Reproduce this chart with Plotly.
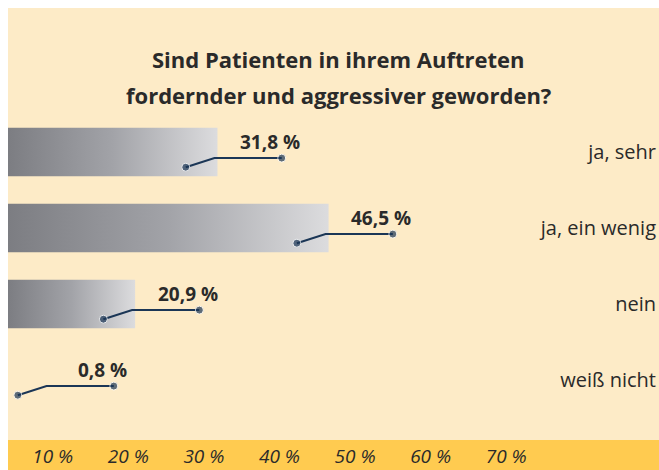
import plotly.graph_objects as go

categories = ["ja, sehr", "ja, ein wenig", "nein", "weiß nicht"]
values = [31.8, 46.5, 20.9, 0.8]
tick_values = [10, 20, 30, 40, 50, 60, 70]
tick_labels = ["10 %", "20 %", "30 %", "40 %", "50 %", "60 %", "70 %"]
title_lines = ["Sind Patienten in ihrem Auftreten", "fordernder und aggressiver geworden?"]

FONT = "Open Sans"
CREAM = "#FDEBC7"
GOLD = "#FFCB50"
NAVY = "#1B3656"
TEXT = "#2a2a2a"

XMIN, XMAX = 4.08, 90.22
W, H = 659, 470
ML, MT, MR, MB = 8, 8, 0, 30
plot_h = H - MT - MB
unit_px = 76.0
y_top = -(152 - MT) / unit_px
y_bottom = 3 + (H - MB - 380) / unit_px
half = 0.32

fig = go.Figure()

for i, (cat, v) in enumerate(zip(categories, values)):
    fig.add_trace(go.Scatter(
        x=[0, v, v, 0, 0], y=[i - half, i - half, i + half, i + half, i - half],
        mode="lines", line=dict(width=0), fill="toself",
        fillgradient=dict(type="horizontal",
                          colorscale=[[0, "#7c7d82"], [0.5, "#a2a3a8"], [1, "#dcdcde"]],
                          start=XMIN, stop=v),
        hoverinfo="skip", showlegend=False))

for i, v in enumerate(values):
    dot_x = max(v - 4.2, XMIN + 1.3)
    elbow_x = dot_x + 3.8
    end_x = elbow_x + 8.9
    fig.add_trace(go.Scatter(
        x=[dot_x, elbow_x, end_x], y=[i + 0.2, i + 0.08, i + 0.08],
        mode="lines+markers", line=dict(color=NAVY, width=2),
        marker=dict(color=NAVY, size=[8, 0, 8]),
        hoverinfo="skip", showlegend=False))
    fig.add_annotation(x=elbow_x + 7.4, y=i + 0.08, xref="x", yref="y",
                       text="<b>" + f"{v:.1f}".replace(".", ",") + " %</b>",
                       showarrow=False, yshift=16, xanchor="center", yanchor="middle",
                       font=dict(family=FONT, size=19, color=TEXT))

for k, (line, yp) in enumerate(zip(title_lines, [0.882, 0.798])):
    fig.add_annotation(x=0.507, y=yp, xref="paper", yref="paper", text="<b>" + line + "</b>",
                       showarrow=False, xanchor="center", yanchor="middle",
                       font=dict(family=FONT, size=22, color=TEXT))

fig.add_shape(type="rect", xref="paper", yref="paper", x0=0, x1=1,
              y0=-MB / plot_h, y1=0, fillcolor=GOLD, line=dict(width=0), layer="below")

fig.update_layout(
    width=W, height=H,
    margin=dict(l=ML, r=MR, t=MT, b=MB, pad=0),
    paper_bgcolor="white", plot_bgcolor=CREAM,
    showlegend=False,
    xaxis=dict(range=[XMIN, XMAX], tickvals=tick_values, ticktext=tick_labels,
               showgrid=False, zeroline=False, showline=False, ticks="",
               tickfont=dict(family=FONT, size=19, color=TEXT, style="italic"),
               ticklabelstandoff=3),
    yaxis=dict(range=[y_bottom, y_top], tickvals=list(range(len(categories))),
               ticktext=categories, side="right", ticklabelposition="inside",
               showgrid=False, zeroline=False, showline=False, ticks="",
               tickfont=dict(family=FONT, size=20, color=TEXT)),
)

fig.write_html("out.html",
               config={"displayModeBar": False},
               post_script="document.body.style.margin='0';"
                           "document.documentElement.style.overflow='hidden';"
                           "document.body.style.overflow='hidden';")
